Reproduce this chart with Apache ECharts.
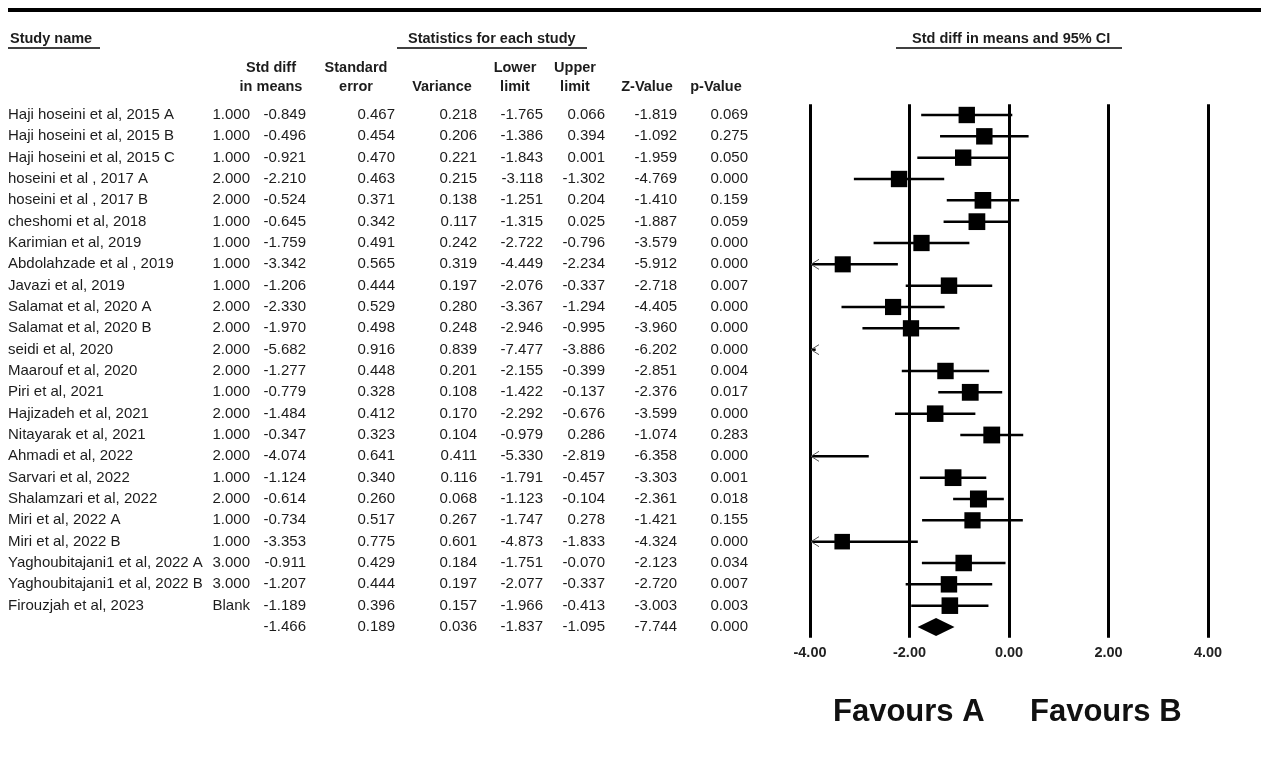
<!DOCTYPE html>
<html>
<head>
<meta charset="utf-8">
<script src="https://cdn.jsdelivr.net/npm/echarts@6/dist/echarts.min.js"></script>
<style>
html,body{margin:0;padding:0;background:#fff;}
#chart{width:1261px;height:763px;}
</style>
</head>
<body>
<div id="chart"></div>
<script>
// ---------------- data ----------------
const studyNames = [
  'Haji hoseini et al, 2015 A','Haji hoseini et al, 2015 B','Haji hoseini et al, 2015 C',
  'hoseini et al , 2017 A','hoseini et al , 2017 B','cheshomi et al, 2018',
  'Karimian et al, 2019','Abdolahzade et al , 2019','Javazi et al, 2019',
  'Salamat et al, 2020 A','Salamat et al, 2020 B','seidi et al, 2020',
  'Maarouf et al, 2020','Piri et al, 2021','Hajizadeh et al, 2021',
  'Nitayarak et al, 2021','Ahmadi et al, 2022','Sarvari et al, 2022',
  'Shalamzari et al, 2022','Miri et al, 2022 A','Miri et al, 2022 B',
  'Yaghoubitajani1 et al, 2022 A','Yaghoubitajani1 et al, 2022 B','Firouzjah et al, 2023',
  '' // pooled
];
const groups = ['1.000','1.000','1.000','2.000','2.000','1.000','1.000','1.000','1.000','2.000','2.000','2.000',
  '2.000','1.000','2.000','1.000','2.000','1.000','2.000','1.000','1.000','3.000','3.000','Blank',''];
const stdDiff = [-0.849,-0.496,-0.921,-2.210,-0.524,-0.645,-1.759,-3.342,-1.206,-2.330,-1.970,-5.682,
  -1.277,-0.779,-1.484,-0.347,-4.074,-1.124,-0.614,-0.734,-3.353,-0.911,-1.207,-1.189,-1.466];
const stdError = [0.467,0.454,0.470,0.463,0.371,0.342,0.491,0.565,0.444,0.529,0.498,0.916,
  0.448,0.328,0.412,0.323,0.641,0.340,0.260,0.517,0.775,0.429,0.444,0.396,0.189];
const variance = [0.218,0.206,0.221,0.215,0.138,0.117,0.242,0.319,0.197,0.280,0.248,0.839,
  0.201,0.108,0.170,0.104,0.411,0.116,0.068,0.267,0.601,0.184,0.197,0.157,0.036];
const lowerLimit = [-1.765,-1.386,-1.843,-3.118,-1.251,-1.315,-2.722,-4.449,-2.076,-3.367,-2.946,-7.477,
  -2.155,-1.422,-2.292,-0.979,-5.330,-1.791,-1.123,-1.747,-4.873,-1.751,-2.077,-1.966,-1.837];
const upperLimit = [0.066,0.394,0.001,-1.302,0.204,0.025,-0.796,-2.234,-0.337,-1.294,-0.995,-3.886,
  -0.399,-0.137,-0.676,0.286,-2.819,-0.457,-0.104,0.278,-1.833,-0.070,-0.337,-0.413,-1.095];
const zValue = [-1.819,-1.092,-1.959,-4.769,-1.410,-1.887,-3.579,-5.912,-2.718,-4.405,-3.960,-6.202,
  -2.851,-2.376,-3.599,-1.074,-6.358,-3.303,-2.361,-1.421,-4.324,-2.123,-2.720,-3.003,-7.744];
const pValue = [0.069,0.275,0.050,0.000,0.159,0.059,0.000,0.000,0.007,0.000,0.000,0.000,
  0.004,0.017,0.000,0.283,0.000,0.001,0.018,0.155,0.000,0.034,0.007,0.003,0.000];
const xTicks = [-4, -2, 0, 2, 4];
const summaryIndex = studyNames.length - 1;

// ---------------- layout / style ----------------
const FONT = "'Liberation Sans', Arial, sans-serif";
const TXT = '#1c1c1c';
const gridLeft = 810, gridTop = 104.33, gridHeight = 533.33;

const f3 = v => v.toFixed(3);
const tableCols = [
  { right: 8, align: 'left', text: studyNames },
  { right: 250, text: groups },
  { right: 306, text: stdDiff.map(f3) },
  { right: 395, text: stdError.map(f3) },
  { right: 477, text: variance.map(f3) },
  { right: 543, text: lowerLimit.map(f3) },
  { right: 605, text: upperLimit.map(f3) },
  { right: 677, text: zValue.map(f3) },
  { right: 748, text: pValue.map(f3) }
];

const rowCats = studyNames.map((_, i) => String(i));
const yAxes = [{
  type: 'category', data: rowCats, inverse: true, gridIndex: 0, show: false
}];
tableCols.forEach(col => {
  yAxes.push({
    type: 'category', data: rowCats, inverse: true, gridIndex: 0,
    position: 'left', offset: gridLeft - col.right,
    axisLine: { show: false }, axisTick: { show: false }, splitLine: { show: false },
    axisLabel: {
      interval: 0, margin: 0, align: col.align || 'right',
      fontSize: 15, fontFamily: FONT, color: TXT,
      formatter: v => col.text[Number(v)]
    }
  });
});

function txt(t, x, y, opts) {
  opts = opts || {};
  const al = opts.align || 'left';
  return {
    type: 'text', x: x, y: y, silent: true,
    style: {
      text: t, font: opts.font || ('bold 14.5px ' + FONT), fill: opts.fill || TXT,
      align: al, textAlign: al, verticalAlign: 'middle', textVerticalAlign: 'middle'
    }
  };
}
function hline(x1, x2, y, w) {
  return { type: 'line', silent: true, shape: { x1: x1, y1: y, x2: x2, y2: y },
    style: { stroke: '#000', lineWidth: w } };
}

const graphics = [
  hline(8, 1261, 10, 4),
  txt('Study name', 10, 39), hline(8, 100, 48, 1.5),
  txt('Statistics for each study', 408, 39), hline(397, 587, 48, 1.5),
  txt('Std diff in means and 95% CI', 912, 39), hline(896, 1122, 48, 1.5),
  txt('Std diff', 271, 68, { align: 'center' }), txt('in means', 271, 87, { align: 'center' }),
  txt('Standard', 356, 68, { align: 'center' }), txt('error', 356, 87, { align: 'center' }),
  txt('Variance', 442, 87, { align: 'center' }),
  txt('Lower', 515, 68, { align: 'center' }), txt('limit', 515, 87, { align: 'center' }),
  txt('Upper', 575, 68, { align: 'center' }), txt('limit', 575, 87, { align: 'center' }),
  txt('Z-Value', 647, 87, { align: 'center' }),
  txt('p-Value', 716, 87, { align: 'center' }),
  txt('Favours A', 833, 712, { font: 'bold 31px ' + FONT, fill: '#111' }),
  txt('Favours B', 1030, 712, { font: 'bold 31px ' + FONT, fill: '#111' })
];

const xMin = xTicks[0], xMax = xTicks[xTicks.length - 1];
const forestData = studyNames.map((_, i) => [stdDiff[i], lowerLimit[i], upperLimit[i], i, variance[i]]);

function renderForest(params, api) {
  const m = api.value(0), lo = api.value(1), hi = api.value(2), i = api.value(3), v = api.value(4);
  const X = x => api.coord([x, i])[0];
  const yc = api.coord([0, i])[1];
  const children = [];
  if (i === summaryIndex) {
    const h = 9;
    children.push({ type: 'polygon', shape: { points: [[X(lo), yc], [X(m), yc - h], [X(hi), yc], [X(m), yc + h]] },
      style: { fill: '#000' } });
    return { type: 'group', children: children };
  }
  const a = Math.max(lo, xMin), b = Math.min(hi, xMax);
  if (b > a) {
    children.push({ type: 'line', shape: { x1: X(a), y1: yc, x2: X(b), y2: yc },
      style: { stroke: '#000', lineWidth: 2.5 } });
  }
  if (lo < xMin) {
    const x0 = X(xMin) + 1;
    children.push({ type: 'polyline', shape: { points: [[x0 + 8, yc - 5], [x0, yc], [x0 + 8, yc + 5]] },
      style: { stroke: '#555', lineWidth: 1, fill: null } });
  }
  if (m >= xMin && m <= xMax) {
    const w = 1 / (v + 0.5), wMax = 1 / (0.068 + 0.5);
    const s = 14 + 3 * (w / wMax);
    const xc = X(m);
    children.push({ type: 'rect', shape: { x: xc - s / 2, y: yc - s / 2, width: s, height: s },
      style: { fill: '#000' } });
  }
  return { type: 'group', children: children };
}

const chart = echarts.init(document.getElementById('chart'), null, { renderer: 'canvas' });
chart.setOption({
  backgroundColor: '#fff',
  animation: false,
  grid: [{ left: gridLeft, right: 53, top: gridTop, height: gridHeight, containLabel: false }],
  xAxis: [{
    type: 'value', gridIndex: 0, min: xMin, max: xMax, interval: 2,
    axisLine: { show: false }, axisTick: { show: false },
    splitLine: { show: true, lineStyle: { color: '#000', width: 3 } },
    axisLabel: { margin: 8, fontSize: 14.5, fontWeight: 'bold', fontFamily: FONT, color: '#222',
      formatter: v => v.toFixed(2) }
  }],
  yAxis: yAxes,
  graphic: graphics,
  series: [{
    type: 'custom', xAxisIndex: 0, yAxisIndex: 0,
    encode: { x: [0, 1, 2], y: 3 },
    data: forestData,
    renderItem: renderForest,
    z: 5
  }]
});
</script>
</body>
</html>
